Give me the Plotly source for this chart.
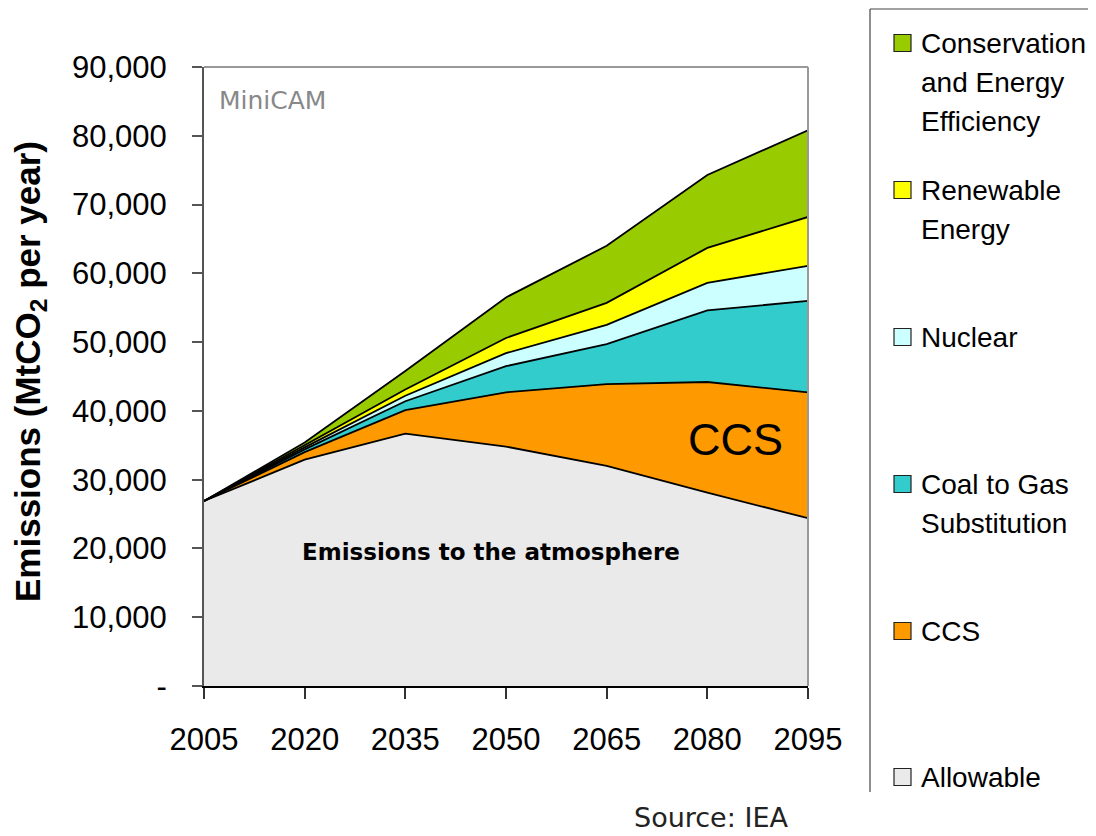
import plotly.graph_objects as go

years = [2005, 2020, 2035, 2050, 2065, 2080, 2095]
allowable = [26900, 32900, 36700, 34800, 32000, 28100, 24400]
ccs = [0, 1100, 3400, 7900, 11900, 16100, 18300]
coal_to_gas = [0, 400, 1300, 3800, 5800, 10400, 13300]
nuclear = [0, 300, 800, 1900, 2800, 4000, 5100]
renewable = [0, 300, 900, 2200, 3200, 5100, 7100]
conservation = [0, 400, 2700, 5900, 8300, 10600, 12600]

series_names = ["Allowable", "CCS", "Coal to Gas Substitution", "Nuclear",
                "Renewable Energy", "Conservation and Energy Efficiency"]
series_values = [allowable, ccs, coal_to_gas, nuclear, renewable, conservation]
series_colors = ["#EAEAEA", "#FF9900", "#33CCCC", "#CCFFFF", "#FFFF00", "#99CC00"]

ytick_vals = [0, 10000, 20000, 30000, 40000, 50000, 60000, 70000, 80000, 90000]
ytick_text = ["-", "10,000", "20,000", "30,000", "40,000", "50,000",
              "60,000", "70,000", "80,000", "90,000"]

legend_lines = [
    ["Conservation", "and Energy", "Efficiency"],
    ["Renewable", "Energy"],
    ["Nuclear"],
    ["Coal to Gas", "Substitution"],
    ["CCS"],
    ["Allowable"],
]
legend_colors = ["#99CC00", "#FFFF00", "#CCFFFF", "#33CCCC", "#FF9900", "#EAEAEA"]

OFF = 8  # page body margin
W, H = 1096 - OFF, 836 - OFF
L, R, T, B = 204 - OFF, 808 - OFF, 67 - OFF, 686 - OFF
PW, PH = R - L, B - T


def px(x):
    return (x - OFF - L) / PW


def py(y):
    return (B - (y - OFF)) / PH


fig = go.Figure()
for name, vals, col in zip(series_names, series_values, series_colors):
    fig.add_trace(go.Scatter(
        x=years, y=vals, name=name, mode="lines", stackgroup="one",
        line=dict(color="black", width=1.8), fillcolor=col,
        hoverinfo="skip", showlegend=False,
    ))

annotations = []
shapes = []

annotations.append(dict(
    x=px(30), y=py(372), xref="paper", yref="paper", xanchor="center", yanchor="middle",
    text="<b>Emissions (MtCO<sub>2</sub> per year)</b>", textangle=-90,
    showarrow=False, font=dict(family="Liberation Sans", size=35, color="black"),
))
annotations.append(dict(
    x=px(217), y=py(100), xref="paper", yref="paper", xanchor="left", yanchor="middle",
    text="MiniCAM", showarrow=False,
    font=dict(family="DejaVu Sans", size=25, color="#888888"),
))
annotations.append(dict(
    x=px(491), y=py(552), xref="paper", yref="paper", xanchor="center", yanchor="middle",
    text="<b>Emissions to the atmosphere</b>", showarrow=False,
    font=dict(family="DejaVu Sans", size=23, color="black"),
))
annotations.append(dict(
    x=px(735), y=py(439), xref="paper", yref="paper", xanchor="center", yanchor="middle",
    text="CCS", showarrow=False,
    font=dict(family="Liberation Sans", size=45, color="black"),
))
annotations.append(dict(
    x=px(632), y=py(817), xref="paper", yref="paper", xanchor="left", yanchor="middle",
    text="Source: IEA", showarrow=False,
    font=dict(family="DejaVu Sans", size=27, color="#222222"),
))

first_line_y = [43, 190, 337, 484, 631, 777]
for lines, col, y0 in zip(legend_lines, legend_colors, first_line_y):
    shapes.append(dict(
        type="rect", xref="paper", yref="paper",
        x0=px(894), x1=px(911), y0=py(y0 - 8.5), y1=py(y0 + 8.5),
        fillcolor=col, line=dict(color="#222222", width=1.2),
    ))
    for i, t in enumerate(lines):
        annotations.append(dict(
            x=px(919), y=py(y0 + i * 39.5), xref="paper", yref="paper",
            xanchor="left", yanchor="middle", text=t, showarrow=False,
            font=dict(family="Liberation Sans", size=28, color="black"),
        ))

shapes.append(dict(type="line", xref="paper", yref="paper",
                   x0=px(870), x1=px(870), y0=py(9), y1=py(792),
                   line=dict(color="#444444", width=1.2)))
shapes.append(dict(type="line", xref="paper", yref="paper",
                   x0=px(870), x1=px(1100), y0=py(9), y1=py(9),
                   line=dict(color="#444444", width=1.2)))
shapes.append(dict(type="line", xref="paper", yref="paper",
                   x0=0, x1=1, y0=1, y1=1, line=dict(color="#999999", width=2)))
shapes.append(dict(type="line", xref="paper", yref="paper",
                   x0=1, x1=1, y0=0, y1=1, line=dict(color="#999999", width=2)))

fig.update_layout(
    width=W, height=H,
    margin=dict(l=L, r=W - R, t=T, b=H - B, pad=0),
    paper_bgcolor="white", plot_bgcolor="white",
    showlegend=False,
    annotations=annotations, shapes=shapes,
    xaxis=dict(
        range=[2005, 2095], tickvals=years, ticktext=[str(y) for y in years],
        showgrid=False, zeroline=False, showline=True, linecolor="black", linewidth=2,
        ticks="outside", ticklen=11, tickwidth=1.5, tickcolor="#333333",
        tickfont=dict(family="Liberation Sans", size=31, color="black"),
        ticklabelstandoff=14,
    ),
    yaxis=dict(
        range=[0, 90000], tickvals=ytick_vals, ticktext=ytick_text,
        showgrid=False, zeroline=False, showline=True, linecolor="#555555", linewidth=2,
        ticks="outside", ticklen=10, tickwidth=1.5, tickcolor="#555555",
        tickfont=dict(family="Liberation Sans", size=31, color="black"),
        ticklabelstandoff=19,
    ),
)

fig.write_html("out.html")
